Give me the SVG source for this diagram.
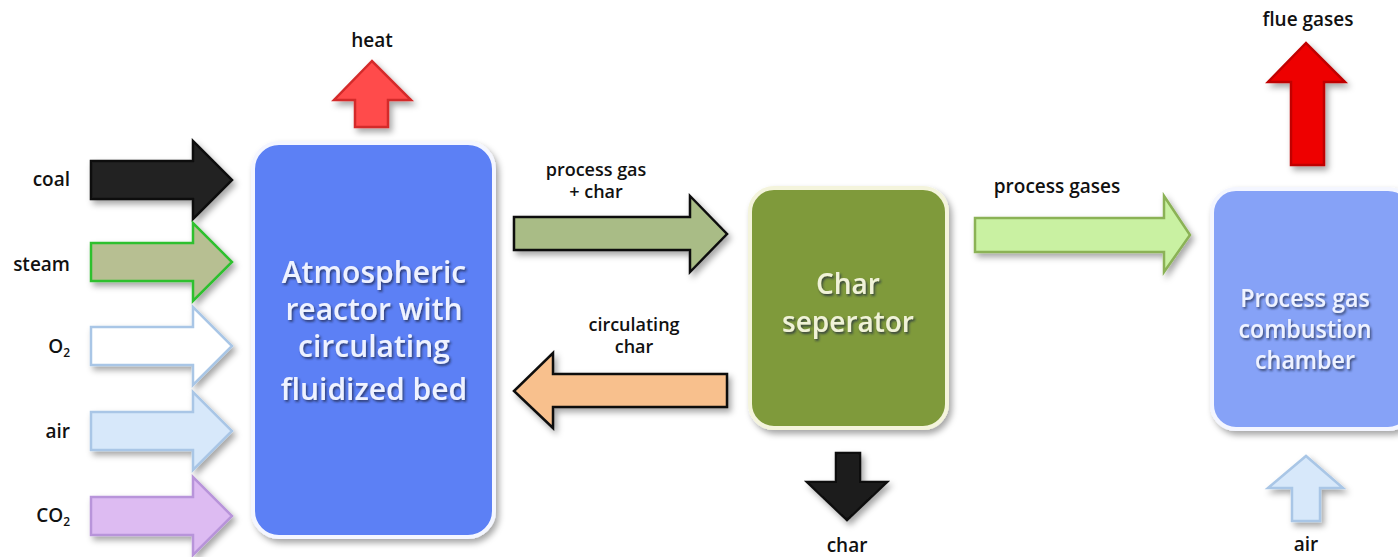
<svg xmlns="http://www.w3.org/2000/svg" width="1398" height="557" viewBox="0 0 1398 557">
<defs>
<filter id="sh" x="-20%" y="-20%" width="140%" height="140%">
<feDropShadow dx="3" dy="4" stdDeviation="3" flood-color="#000" flood-opacity="0.35"/>
</filter>
<filter id="tsh" x="-10%" y="-10%" width="120%" height="130%">
<feDropShadow dx="1.5" dy="2" stdDeviation="1" flood-color="#1a2340" flood-opacity="0.7"/>
</filter>
</defs>
<style>
.lbl{font-family:"Open Sans","Liberation Sans",sans-serif;font-weight:600;font-size:19px;fill:#111;text-anchor:middle}
.lbl2{font-family:"Open Sans","Liberation Sans",sans-serif;font-weight:600;font-size:18px;fill:#111;text-anchor:middle}
.lblr{font-family:"Open Sans","Liberation Sans",sans-serif;font-weight:600;font-size:19px;fill:#111;text-anchor:end}
.node{font-family:"Open Sans","Liberation Sans",sans-serif;font-weight:600;font-size:30px;text-anchor:middle}
.box{stroke-width:4;filter:url(#sh)}
.arr{stroke-width:2.5;stroke-linejoin:miter;filter:url(#sh)}
</style>
<rect width="1398" height="557" fill="#fff"/>

<g id="node-reactor">
<rect class="box" x="253" y="143" width="241" height="394" rx="26" fill="#5b80f5" stroke="#f4f6ff"/>
<g class="node" fill="#eef2ff" filter="url(#tsh)">
<text x="374" y="283">Atmospheric</text>
<text x="374" y="320">reactor with</text>
<text x="374" y="357">circulating</text>
<text x="374" y="400">fluidized bed</text>
</g>
</g>

<g id="node-separator">
<rect class="box" x="750" y="188" width="197" height="240" rx="24" fill="#7f9a3b" stroke="#f4f4dc"/>
<g class="node" fill="#f0f2d8" filter="url(#tsh)">
<text x="848" y="294" style="font-size:28px">Char</text>
<text x="848" y="332" style="font-size:28px">seperator</text>
</g>
</g>

<g id="node-combustion">
<rect class="box" x="1212" y="189" width="200" height="240" rx="24" fill="#86a2f7" stroke="#f4f6ff"/>
<g class="node" fill="#eef2ff" filter="url(#tsh)" transform="translate(1305 0) scale(0.93 1)">
<text x="0" y="307" style="font-size:25px">Process gas</text>
<text x="0" y="338" style="font-size:25px">combustion</text>
<text x="0" y="369" style="font-size:25px">chamber</text>
</g>
</g>

<g id="connectors">
<!-- inputs to reactor -->
<polygon class="arr" points="91,161 193,161 193,141 232,180 193,219 193,199 91,199" fill="#242424" stroke="#111"/>
<polygon class="arr" points="91,243 193,243 193,223 232,262 193,301 193,281 91,281" fill="#b7bf92" stroke="#2fc02f"/>
<polygon class="arr" points="91,327 193,327 193,307 232,346 193,385 193,365 91,365" fill="#ffffff" stroke="#a9c6e6"/>
<polygon class="arr" points="91,412 193,412 193,392 232,431 193,470 193,450 91,450" fill="#d7e8fa" stroke="#a9c6e6"/>
<polygon class="arr" points="91,497 193,497 193,477 232,516 193,555 193,535 91,535" fill="#ddbbf2" stroke="#b894da"/>

<!-- heat -->
<polygon class="arr" points="355,127 355,100 334,100 372,61 411,100 388,100 388,127" fill="#ff4b4b" stroke="#d42a2a"/>

<!-- process gas + char -->
<polygon class="arr" points="514,217 690,217 690,196 727,234 690,272 690,250 514,250" fill="#a9bc86" stroke="#111"/>
<!-- circulating char -->
<polygon class="arr" points="727,374 553,374 553,353 514,391 553,428 553,407 727,407" fill="#f8c08d" stroke="#111"/>

<!-- char out -->
<polygon class="arr" points="836,453 860,453 860,482 887,482 847,520 807,482 836,482" fill="#1e1e1e" stroke="#111"/>

<!-- process gases -->
<polygon class="arr" points="975,218 1164,218 1164,196 1190,235 1164,272 1164,252 975,252" fill="#c9f1a2" stroke="#8bb257"/>

<!-- flue gases -->
<polygon class="arr" points="1291,165 1291,82 1268,82 1306,43 1345,82 1324,82 1324,165" fill="#ee0000" stroke="#c00000"/>

<!-- air into combustion -->
<polygon class="arr" points="1292,521 1292,488 1268,488 1306,456 1343,488 1320,488 1320,521" fill="#d7e8fa" stroke="#a9c6e6"/>
</g>

<g id="labels">
<text class="lblr" x="70" y="186">coal</text>
<text class="lblr" x="70" y="271">steam</text>
<text class="lblr" x="70" y="353">O<tspan font-size="12" dy="4">2</tspan></text>
<text class="lblr" x="70" y="438">air</text>
<text class="lblr" x="70" y="522">CO<tspan font-size="12" dy="4">2</tspan></text>
<text class="lbl" x="372" y="47">heat</text>
<text class="lbl2" x="596" y="176">process gas</text>
<text class="lbl2" x="596" y="198">+ char</text>
<text class="lbl2" x="634" y="331">circulating</text>
<text class="lbl2" x="634" y="353">char</text>
<text class="lbl" x="847" y="552">char</text>
<text class="lbl" x="1057" y="193">process gases</text>
<text class="lbl" x="1308" y="26">flue gases</text>
<text class="lbl" x="1306" y="551">air</text>
</g>
</svg>
